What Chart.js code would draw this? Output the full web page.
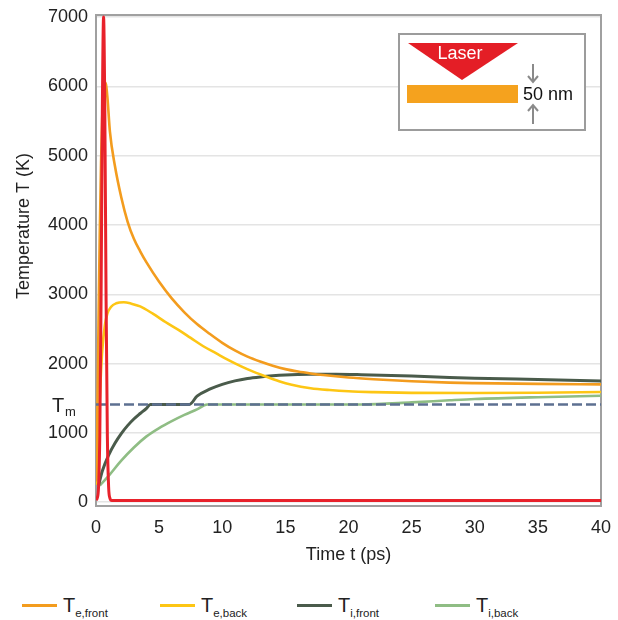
<!DOCTYPE html>
<html>
<head>
<meta charset="utf-8">
<script src="https://cdn.jsdelivr.net/npm/chart.js@4"></script>
<style>
  body { margin: 0; background: #fff; font-family: "Liberation Sans", Arial, sans-serif; }
  #wrap { position: relative; width: 618px; height: 620px; }
  #chart { position: absolute; left: 0; top: 0; }
  .lg { position: absolute; top: 594px; height: 26px; color: #222; white-space: nowrap; }
  .lg i { position: absolute; top: 10px; width: 35px; height: 3px; }
  .lg span { position: absolute; top: 0; font-size: 20px; line-height: 22px; }
  .lg sub { font-size: 11.5px; vertical-align: -5px; }
</style>
</head>
<body>
<div id="wrap">
  <canvas id="chart" width="618" height="575"></canvas>
  <div class="lg" style="left:22px"><i style="background:#f39c1e"></i><span style="left:41px">T<sub>e,front</sub></span></div>
  <div class="lg" style="left:160px"><i style="background:#fdc614"></i><span style="left:41px">T<sub>e,back</sub></span></div>
  <div class="lg" style="left:297px"><i style="background:#4a5b4b"></i><span style="left:41px">T<sub>i,front</sub></span></div>
  <div class="lg" style="left:435px"><i style="background:#8fbd84"></i><span style="left:41px">T<sub>i,back</sub></span></div>
</div>
<script>
// ── Data (time in ps, temperature in K) ──────────────────────────────── //
var tLaser  = [0, 0.1, 0.2, 0.3, 0.4, 0.5, 0.6, 0.7, 0.8, 0.9, 1.0, 1.1, 1.25, 40];
var laser   = [30, 60, 220, 950, 2900, 5600, 7000, 5600, 2900, 950, 220, 60, 25, 25];

var tTeFront = [0, 0.1, 0.2, 0.3, 0.4, 0.5, 0.6, 0.75, 0.9, 1.1, 1.5, 2, 2.5, 3, 3.5, 4, 5, 6, 7, 8, 9, 10,
                11, 12, 13, 14, 15, 16, 17, 18, 20, 22, 25, 28, 30, 35, 40];
var teFront  = [300, 1200, 2600, 3900, 4900, 5600, 5950, 6050, 5850, 5350, 4850, 4400, 4050, 3800, 3620, 3460,
                3180, 2940, 2740, 2570, 2430, 2300, 2190, 2100, 2030, 1970, 1920, 1885, 1858, 1835, 1800,
                1775, 1745, 1725, 1718, 1707, 1700];

var tTeBack = [0, 0.1, 0.2, 0.3, 0.4, 0.5, 0.7, 0.9, 1.2, 1.6, 2.2, 2.8, 3.5, 4.5, 5.5, 6.5, 7.5, 8.5, 9.5,
               10.5, 11.5, 12.5, 13.5, 14.5, 15.5, 17, 18.5, 20, 22, 25, 30, 35, 40];
var teBack  = [250, 500, 1000, 1500, 1900, 2200, 2550, 2720, 2820, 2870, 2885, 2865, 2825, 2720, 2600, 2490,
               2370, 2250, 2150, 2050, 1960, 1880, 1810, 1745, 1695, 1645, 1618, 1600, 1588, 1578, 1575,
               1580, 1590];

var tTiFront = [0.2, 0.5, 1, 1.5, 2, 2.5, 3, 3.5, 4, 4.3, 7.4, 8, 9, 10, 11, 12, 13, 14, 15, 17, 19, 21, 25,
                28, 30, 35, 40];
var tiFront  = [240, 450, 680, 850, 990, 1105, 1200, 1280, 1355, 1410, 1410, 1530, 1630, 1700, 1750, 1785,
                1808, 1825, 1836, 1845, 1846, 1840, 1820, 1800, 1790, 1770, 1750];

var tTiBack = [0.3, 1, 2, 3, 4, 5, 6, 7, 8, 8.8, 21, 25, 28, 30, 35, 40];
var tiBack  = [240, 380, 600, 790, 950, 1070, 1170, 1260, 1340, 1410, 1410, 1440, 1470, 1488, 1515, 1535];

var tMelt   = [0, 40];
var melt    = [1410, 1410];

var xTicks = [0, 5, 10, 15, 20, 25, 30, 35, 40];
var yTicks = [0, 1000, 2000, 3000, 4000, 5000, 6000, 7000];

var FONT = '"Liberation Sans", Arial, sans-serif';

function pts(xs, ys) {
  return xs.map(function (x, i) { return { x: x, y: ys[i] }; });
}

function line(label, xs, ys, color, width, order, extra) {
  var ds = {
    label: label,
    data: pts(xs, ys),
    borderColor: color,
    backgroundColor: color,
    borderWidth: width,
    pointRadius: 0,
    fill: false,
    cubicInterpolationMode: 'monotone',
    order: order
  };
  return Object.assign(ds, extra || {});
}

// scales should not push the plot area around; layout padding decides
function noPad(s) {
  s.paddingTop = 0; s.paddingBottom = 0; s.paddingLeft = 0; s.paddingRight = 0;
}

// ── Frame, inset sketch, T_m marker, y title ───────────────────────── //
var extras = {
  id: 'extras',
  beforeDatasetsDraw: function (chart) {
    var a = chart.chartArea, ctx = chart.ctx;
    ctx.save();
    ctx.strokeStyle = '#a0a0a0';
    ctx.lineWidth = 2;
    ctx.strokeRect(a.left, a.top, a.right - a.left, a.bottom - a.top);
    ctx.restore();
  },
  afterDraw: function (chart) {
    var ctx = chart.ctx;
    var y = chart.scales.y;
    ctx.save();

    // inset box
    ctx.fillStyle = '#fff';
    ctx.strokeStyle = '#9c9c9c';
    ctx.lineWidth = 2;
    ctx.fillRect(399, 34, 186, 96);
    ctx.strokeRect(399, 34, 186, 96);

    ctx.fillStyle = '#e41e26';
    ctx.beginPath();
    ctx.moveTo(408, 43); ctx.lineTo(518, 43); ctx.lineTo(462, 80);
    ctx.closePath(); ctx.fill();

    ctx.fillStyle = '#fff';
    ctx.font = '18px ' + FONT;
    ctx.textAlign = 'center';
    ctx.textBaseline = 'middle';
    ctx.fillText('Laser', 460, 54);

    ctx.fillStyle = '#f5a21e';
    ctx.fillRect(407, 85, 111, 18);

    ctx.fillStyle = '#111';
    ctx.textAlign = 'left';
    ctx.fillText('50 nm', 523, 95);

    ctx.strokeStyle = '#8a8a8a';
    ctx.lineWidth = 2;
    ctx.beginPath();
    ctx.moveTo(533, 64); ctx.lineTo(533, 82);
    ctx.moveTo(528, 76); ctx.lineTo(533, 82); ctx.lineTo(538, 76);
    ctx.moveTo(533, 124); ctx.lineTo(533, 105);
    ctx.moveTo(528, 111); ctx.lineTo(533, 105); ctx.lineTo(538, 111);
    ctx.stroke();

    // T_m label on the left of the axis
    var ym = y.getPixelForValue(melt[0]);
    ctx.fillStyle = '#222';
    ctx.textBaseline = 'alphabetic';
    ctx.font = '20px ' + FONT;
    ctx.fillText('T', 52, ym + 8);
    ctx.font = '13px ' + FONT;
    ctx.fillText('m', 65, ym + 12);

    // y axis title
    ctx.font = '18px ' + FONT;
    ctx.textAlign = 'center';
    ctx.textBaseline = 'middle';
    ctx.translate(24, 226);
    ctx.rotate(-Math.PI / 2);
    ctx.fillText('Temperature T (K)', 0, 0);
    ctx.restore();
  }
};

new Chart(document.getElementById('chart').getContext('2d'), {
  type: 'line',
  data: {
    datasets: [
      line('Laser', tLaser, laser, '#e8222b', 3, 0),
      line('T_m', tMelt, melt, '#5d7091', 2.5, 1, { borderDash: [10, 4], cubicInterpolationMode: 'default' }),
      line('T_e,front', tTeFront, teFront, '#f39c1e', 2.6, 2),
      line('T_e,back', tTeBack, teBack, '#fdc614', 2.6, 3),
      line('T_i,front', tTiFront, tiFront, '#4a5b4b', 3, 4),
      line('T_i,back', tTiBack, tiBack, '#8fbd84', 2.6, 5)
    ]
  },
  options: {
    responsive: false,
    animation: false,
    layout: { padding: { left: 0, top: 15, right: 17, bottom: 0 } },
    plugins: { legend: { display: false }, tooltip: { enabled: false } },
    scales: {
      x: {
        type: 'linear',
        min: 0,
        max: 40,
        afterFit: function (s) { s.height = 69; noPad(s); },
        afterBuildTicks: function (s) { s.ticks = xTicks.map(function (v) { return { value: v }; }); },
        grid: { display: false, drawTicks: false },
        border: { display: false },
        ticks: { padding: 11, color: '#222', font: { family: FONT, size: 18 }, maxRotation: 0,
                 callback: function (v) { return String(v); } },
        title: { display: true, text: 'Time t (ps)', color: '#222', font: { family: FONT, size: 18 },
                 padding: { top: 0, bottom: 9 } }
      },
      y: {
        min: -55,
        max: 7030,
        afterFit: function (s) { s.width = 96; noPad(s); },
        afterBuildTicks: function (s) { s.ticks = yTicks.map(function (v) { return { value: v }; }); },
        grid: { color: '#e4e4e4', lineWidth: 1.5, drawTicks: false },
        border: { display: false },
        ticks: { padding: 8, color: '#222', font: { family: FONT, size: 18 },
                 callback: function (v) { return String(v); } }
      }
    }
  },
  plugins: [extras]
});
</script>
</body>
</html>
